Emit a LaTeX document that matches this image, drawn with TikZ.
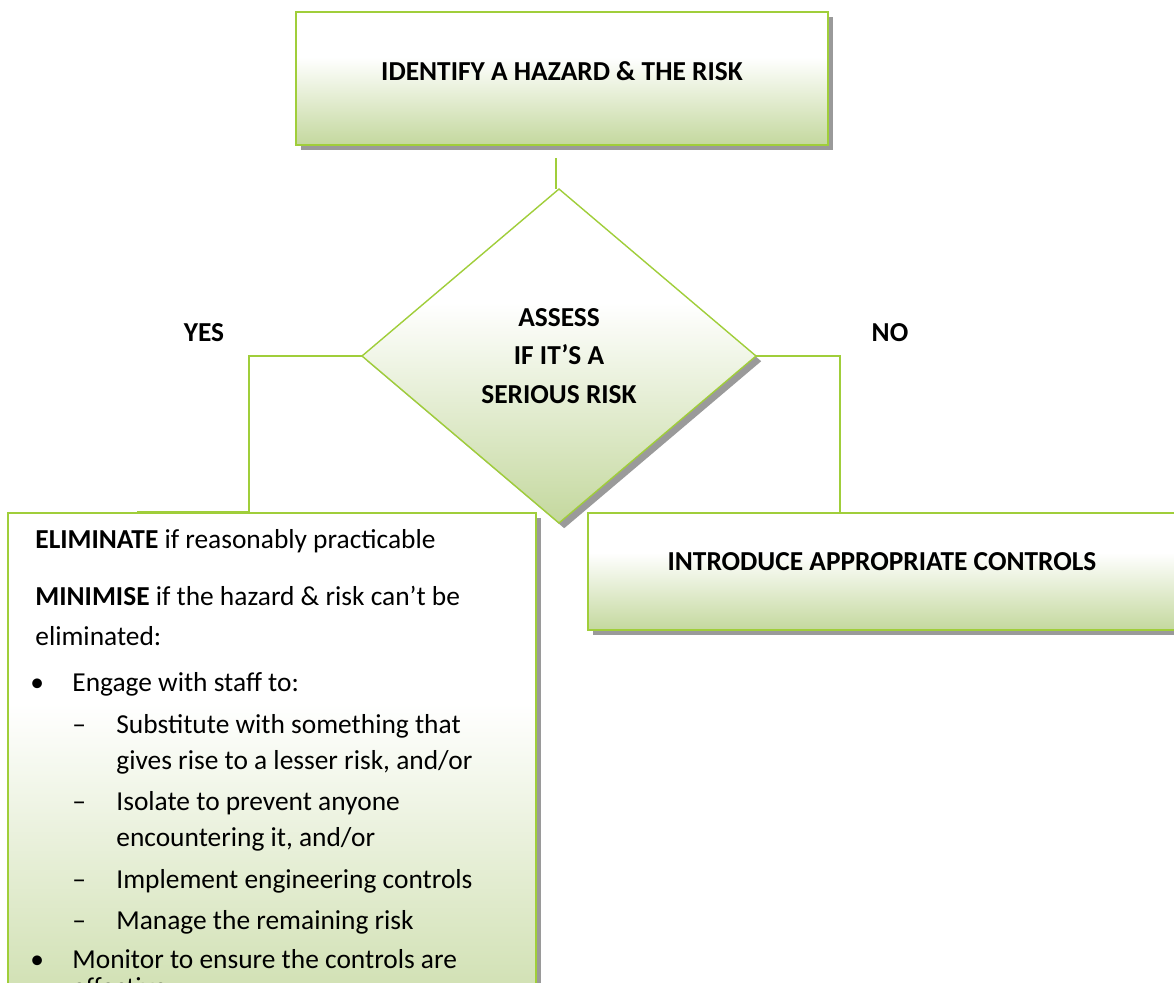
\documentclass[tikz,border=0pt]{standalone}
\usepackage{fontspec}
\setmainfont{Carlito}
\usetikzlibrary{shapes.geometric,shadows}
\definecolor{lime}{RGB}{160,206,58}
\definecolor{boxgreen}{RGB}{196,216,158}
\definecolor{shadowgray}{RGB}{154,154,154}
\pgfdeclareverticalshading{boxshade}{100bp}{color(0bp)=(boxgreen); color(25bp)=(boxgreen); color(58bp)=(white); color(100bp)=(white)}
\tikzset{
  flowbox/.style={draw=lime, line width=0.7pt, shading=boxshade, inner sep=0pt, outer sep=0pt,
    drop shadow={shadow xshift=2.6pt, shadow yshift=-2.6pt, fill=shadowgray, opacity=1}},
  conn/.style={draw=lime, line width=1pt},
  lbl/.style={font=\fontsize{13.7}{19}\selectfont\bfseries, inner sep=0pt},
  body/.style={font=\fontsize{13.7}{18}\selectfont, anchor=base west, inner sep=0pt},
}
\begin{document}
\begin{tikzpicture}[x=0.5pt, y=-0.5pt]
\clip (0,0) rectangle (1174,982);
\fill[white] (0,0) rectangle (1174,982);

% top box
\node[flowbox, minimum width=266pt, minimum height=66.5pt] (identify) at (562,78.5) {};
\node[lbl] (identifytxt) at (562,71) {IDENTIFY A HAZARD \& THE RISK};

% diamond
\node[flowbox, diamond, minimum width=197pt, minimum height=167pt, align=center,
      font=\fontsize{13.7}{19.3}\selectfont\bfseries] (assess) at (559,356)
  {ASSESS\\IF IT’S A\\SERIOUS RISK};

% labels
\node[lbl] (yes) at (204,333) {YES};
\node[lbl] (no) at (890,333) {NO};

% right box
\node[flowbox, minimum width=300pt, minimum height=58.5pt, anchor=north west] (controls) at (588,513) {};
\node[lbl] (controlstxt) at (882,562) {INTRODUCE APPROPRIATE CONTROLS};

% left box
\node[flowbox, minimum width=264pt, minimum height=280pt, anchor=north west] (eliminate) at (8,513) {};

\node[body] (l1) at (35,548) {\textbf{ELIMINATE} if reasonably practicable};
\node[body] (l2) at (35,605) {\textbf{MINIMISE} if the hazard \& risk can’t be};
\node[body] (l3) at (35,645) {eliminated:};
\node[body] (b1) at (30,691) {•};
\node[body] (l4) at (72,691) {Engage with staff to:};
\node[body] (d1) at (72,733) {–};
\node[body] (l5) at (116,733) {Substitute with something that};
\node[body] (l6) at (116,769) {gives rise to a lesser risk, and/or};
\node[body] (d2) at (72,810) {–};
\node[body] (l7) at (116,810) {Isolate to prevent anyone};
\node[body] (l8) at (116,846) {encountering it, and/or};
\node[body] (d3) at (72,888) {–};
\node[body] (l9) at (116,888) {Implement engineering controls};
\node[body] (d4) at (72,929) {–};
\node[body] (l10) at (116,929) {Manage the remaining risk};
\node[body] (b2) at (30,968) {•};
\node[body] (l11) at (72,968) {Monitor to ensure the controls are};
\node[body] (l12) at (72,996) {effective.};

% connectors
\coordinate (topstub) at (556,158);
\draw[conn] (topstub) -- (topstub |- assess.north);

\coordinate (yesknee) at (249,512);
\coordinate (yesend) at (137,512);
\draw[conn] (assess.west) -| (yesknee) -- (yesend);

\coordinate (noknee) at (840,513);
\coordinate (noend) at (925,513);
\draw[conn] (assess.east) -| (noknee) -- (noend);
\end{tikzpicture}
\end{document}
